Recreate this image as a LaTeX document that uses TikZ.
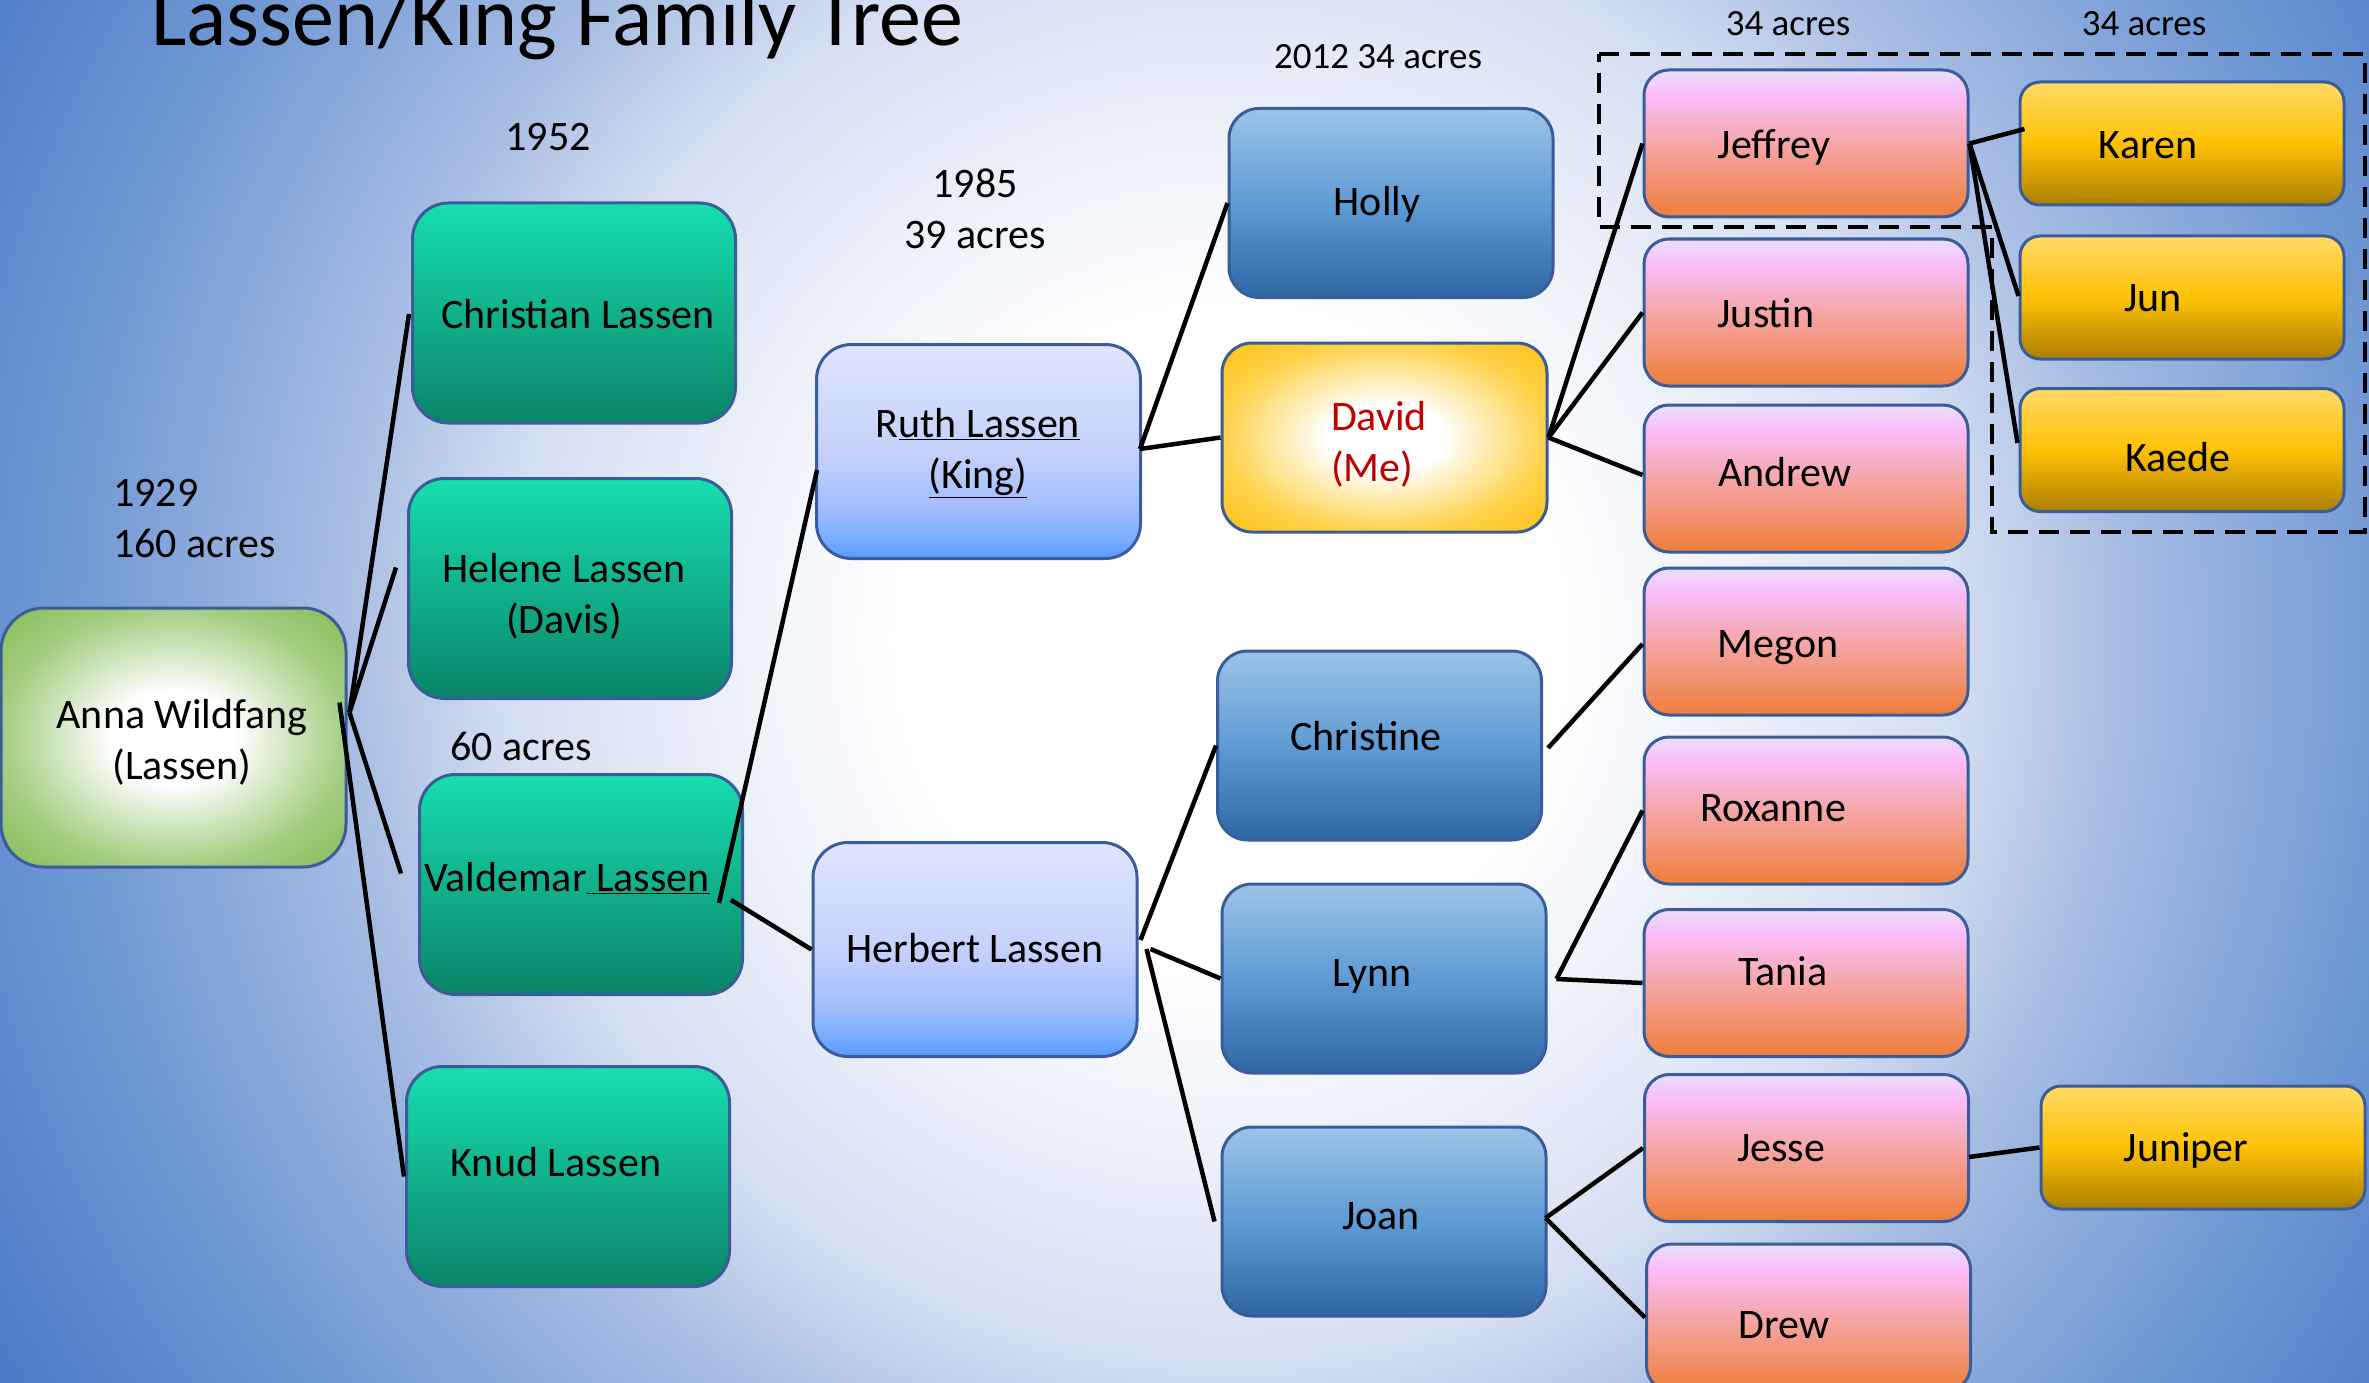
\documentclass[tikz,border=0pt]{standalone}
\usepackage{fontspec}
\setmainfont{Carlito}
\usetikzlibrary{calc}

\definecolor{bgA}{HTML}{D5DFF2}
\definecolor{bgB}{HTML}{A8BDE3}
\definecolor{bgC}{HTML}{7098D4}
\definecolor{bgD}{HTML}{4472C4}
\definecolor{bord}{HTML}{3A5C9B}
\definecolor{grnT}{HTML}{17DEB0}
\definecolor{grnB}{HTML}{0A8467}
\definecolor{annaE}{HTML}{A3CD80}
\definecolor{annaC}{HTML}{8CBF5F}
\definecolor{ltT}{HTML}{DEE5FE}
\definecolor{ltM}{HTML}{C5D1FB}
\definecolor{ltL}{HTML}{A5BEFD}
\definecolor{ltN}{HTML}{7DAEFF}
\definecolor{ltB}{HTML}{5798FF}
\definecolor{bluT}{HTML}{9DC3E6}
\definecolor{bluM}{HTML}{5F9BD4}
\definecolor{bluB}{HTML}{2E66A3}
\definecolor{yelE}{HTML}{FFD24A}
\definecolor{yelC}{HTML}{FFC420}
\definecolor{pnkT}{HTML}{E9E0FB}
\definecolor{pnkP}{HTML}{FABEFD}
\definecolor{pnkM}{HTML}{F5A6A6}
\definecolor{pnkB}{HTML}{EE7E3B}
\definecolor{gldT}{HTML}{FFDA66}
\definecolor{gldM}{HTML}{FFC105}
\definecolor{gldB}{HTML}{AB7E00}
\definecolor{meRed}{HTML}{C00000}

\pgfdeclareradialshading{bgshade}{\pgfpointorigin}{color(0bp)=(white); color(5.5bp)=(white); color(12bp)=(bgA); color(14.8bp)=(bgB); color(19.4bp)=(bgC); color(25bp)=(bgD); color(50bp)=(bgD)}
\pgfdeclareradialshading{annashade}{\pgfpointorigin}{color(0bp)=(white); color(9bp)=(white); color(25bp)=(annaE); color(33bp)=(annaC); color(50bp)=(annaC)}
\pgfdeclareradialshading{davidshade}{\pgfpointorigin}{color(0bp)=(white); color(9bp)=(white); color(25bp)=(yelE); color(33bp)=(yelC); color(50bp)=(yelC)}
\pgfdeclareverticalshading{greenshade}{100bp}{color(0bp)=(grnB); color(25bp)=(grnB); color(75bp)=(grnT); color(100bp)=(grnT)}
\pgfdeclareverticalshading{lightshade}{100bp}{color(0bp)=(ltB); color(25bp)=(ltB); color(30bp)=(ltN); color(37.5bp)=(ltL); color(50bp)=(ltM); color(75bp)=(ltT); color(100bp)=(ltT)}
\pgfdeclareverticalshading{blueshade}{100bp}{color(0bp)=(bluB); color(25bp)=(bluB); color(50bp)=(bluM); color(75bp)=(bluT); color(100bp)=(bluT)}
\pgfdeclareverticalshading{pinkshade}{100bp}{color(0bp)=(pnkB); color(25bp)=(pnkB); color(50bp)=(pnkM); color(67bp)=(pnkP); color(75bp)=(pnkT); color(100bp)=(pnkT)}
\pgfdeclareverticalshading{goldshade}{100bp}{color(0bp)=(gldB); color(25bp)=(gldB); color(50bp)=(gldM); color(75bp)=(gldT); color(100bp)=(gldT)}

\tikzset{
  box/.style={draw=bord, line width=3pt, rectangle, inner sep=0pt, shade},
  greenbox/.style={box, shading=greenshade, minimum width=323pt, minimum height=220pt, rounded corners=36pt},
  lightbox/.style={box, shading=lightshade, minimum width=324pt, minimum height=214pt, rounded corners=35pt},
  bluebox/.style={box, shading=blueshade, minimum width=324pt, minimum height=189pt, rounded corners=30pt},
  pinkbox/.style={box, shading=pinkshade, minimum width=324pt, minimum height=147pt, rounded corners=25pt},
  goldbox/.style={box, shading=goldshade, minimum width=324pt, minimum height=123pt, rounded corners=20pt},
  txt/.style={inner sep=0pt, font=\fontsize{42}{51}\selectfont, text height=27pt, text depth=0pt},
  mtxt/.style={inner sep=0pt, font=\fontsize{42}{51}\selectfont, align=center},
  smalltxt/.style={inner sep=0pt, font=\fontsize{37}{44}\selectfont, text height=24pt, text depth=0pt},
  conn/.style={line width=4.5pt, black},
  dashbox/.style={line width=4pt, black, dash pattern=on 20pt off 11pt},
}

\begin{document}
\begin{tikzpicture}[x=1pt, y=-1pt]
\useasboundingbox (0,0) rectangle (2369,1383);
\begin{scope}
  \clip (0,0) rectangle (2369,1383);
  \shade[shading=bgshade] (1230,640) circle (1500);

  % boxes
  \node[box, shading=annashade, minimum width=345pt, minimum height=259pt, rounded corners=43pt] (anna) at (173.5,737.5) {};
  \node[greenbox] (christian) at (574,313) {};
  \node[greenbox] (helene) at (570,588.5) {};
  \node[greenbox] (valdemar) at (581,884.5) {};
  \node[greenbox] (knud) at (568,1176.5) {};
  \node[lightbox] (ruth) at (978.5,451.5) {};
  \node[lightbox] (herbert) at (975,949.5) {};
  \node[bluebox] (holly) at (1391,203) {};
  \node[box, shading=davidshade, minimum width=325pt, minimum height=189pt, rounded corners=30pt] (david) at (1384.5,437.5) {};
  \node[bluebox] (christine) at (1379.5,745.5) {};
  \node[bluebox] (lynn) at (1384,978.5) {};
  \node[bluebox] (joan) at (1384,1221.5) {};
  \node[pinkbox] (jeffrey) at (1806,143.5) {};
  \node[pinkbox] (justin) at (1806,312.5) {};
  \node[pinkbox] (andrew) at (1806,478.5) {};
  \node[pinkbox] (megon) at (1806,641.5) {};
  \node[pinkbox] (roxanne) at (1806,810.5) {};
  \node[pinkbox] (tania) at (1806,983) {};
  \node[pinkbox] (jesse) at (1806.5,1148) {};
  \node[pinkbox] (drew) at (1808.5,1317.5) {};
  \node[goldbox] (karen) at (2182,143.5) {};
  \node[goldbox] (jun) at (2182,297.5) {};
  \node[goldbox] (kaede) at (2182,450) {};
  \node[goldbox] (juniper) at (2203,1147.5) {};

  % texts in boxes
  \node[mtxt] (t-anna) at (182,742) {Anna Wildfang\\(Lassen)};
  \node[txt] (t-christian) at (578,315) {Christian Lassen};
  \node[mtxt] (t-helene) at (564,596) {Helene Lassen\\(Davis)};
  \node[txt] (t-valdemar) at (567,878) {Valdemar\underline{ Lassen}};
  \node[txt] (t-knud) at (556,1163) {Knud Lassen};
  \node[mtxt] (t-ruth) at (978,453) {R\underline{uth Lassen}\\\underline{(King)}};
  \node[txt] (t-herbert) at (975,949) {Herbert Lassen};
  \node[txt] (t-holly) at (1377,202) {Holly};
  \node[mtxt, align=left, text=meRed] (t-david) at (1379,444) {David\\(Me)};
  \node[txt] (t-christine) at (1366,737) {Christine};
  \node[txt] (t-lynn) at (1372,973) {Lynn};
  \node[txt] (t-joan) at (1381,1216) {Joan};
  \node[txt] (t-jeffrey) at (1774,145) {Jeffrey};
  \node[txt] (t-justin) at (1766,314) {Justin};
  \node[txt] (t-andrew) at (1785,473) {Andrew};
  \node[txt] (t-megon) at (1778,644) {Megon};
  \node[txt] (t-roxanne) at (1773,808) {Roxanne};
  \node[txt] (t-tania) at (1783,972) {Tania};
  \node[txt] (t-jesse) at (1781,1148) {Jesse};
  \node[txt] (t-drew) at (1784,1325) {Drew};
  \node[txt] (t-karen) at (2148,145) {Karen};
  \node[txt] (t-jun) at (2153,298) {Jun};
  \node[txt] (t-kaede) at (2178,458) {Kaede};
  \node[txt] (t-juniper) at (2186,1148) {Juniper};

  % free labels
  \node[inner sep=0pt, font=\fontsize{84}{100}\selectfont, anchor=base west] (title) at (151,46) {Lassen/King Family Tree};
  \node[txt] (l-1952) at (548,137) {1952};
  \node[mtxt] (l-1985) at (975,209) {1985\\39 acres};
  \node[mtxt, align=left, anchor=west] (l-1929) at (113,519) {1929\\160 acres};
  \node[txt] (l-60) at (521,747) {60 acres};
  \node[smalltxt] (l-2012) at (1378,57) {2012 34 acres};
  \node[smalltxt] (l-34a) at (1788,24) {34 acres};
  \node[smalltxt] (l-34b) at (2144,24) {34 acres};

  % connectors
  \draw[conn] ($(anna.east)+(2,-25)$) -- ($(christian.west)+(-2,1)$);
  \draw[conn] ($(anna.east)+(2,-25)$) -- ($(helene.west)+(-11,-21)$);
  \draw[conn] ($(anna.east)+(2,-25)$) -- ($(valdemar.west)+(-17,-11)$);
  \draw[conn] ($(anna.east)+(-8,-35)$) -- ($(knud.west)+(-1,0)$);
  \draw[conn] ($(valdemar.east)+(-25,18.5)$) -- ($(ruth.west)+(2,18.5)$);
  \draw[conn] ($(valdemar.east)+(-13,15.5)$) -- (herbert.west);
  \draw[conn] ($(ruth.east)+(-2,-2.5)$) -- (holly.west);
  \draw[conn] ($(ruth.east)+(-2,-2.5)$) -- (david.west);
  \draw[conn] ($(herbert.east)+(2,-9.5)$) -- (christine.west);
  \draw[conn] ($(herbert.east)+(12,-0.5)$) -- (lynn.west);
  \draw[conn] ($(herbert.east)+(8,-0.5)$) -- ($(joan.west)+(-6,0)$);
  \draw[conn] (david.east) -- (jeffrey.west);
  \draw[conn] (david.east) -- (justin.west);
  \draw[conn] (david.east) -- ($(andrew.west)+(0,-3.5)$);
  \draw[conn] ($(christine.east)+(5,2.5)$) -- ($(megon.west)+(0,2.5)$);
  \draw[conn] ($(lynn.east)+(9,0.5)$) -- (roxanne.west);
  \draw[conn] ($(lynn.east)+(9,0.5)$) -- (tania.west);
  \draw[conn] ($(joan.east)+(-2,-3.5)$) -- (jesse.west);
  \draw[conn] ($(joan.east)+(-2,-3.5)$) -- (drew.west);
  \draw[conn] ($(jesse.east)+(-1,9)$) -- (juniper.west);
  \draw[conn] (jeffrey.east) -- ($(karen.west)+(6,-14.5)$);
  \draw[conn] (jeffrey.east) -- ($(jun.west)+(0,-1.5)$);
  \draw[conn] (jeffrey.east) -- ($(kaede.west)+(-1,-7)$);

  % dashed grouping outline
  \draw[dashbox] (1599,54) -- (2365,54) -- (2365,532) -- (1992,532) -- (1992,227) -- (1599,227) -- cycle;
\end{scope}
\end{tikzpicture}
\end{document}
